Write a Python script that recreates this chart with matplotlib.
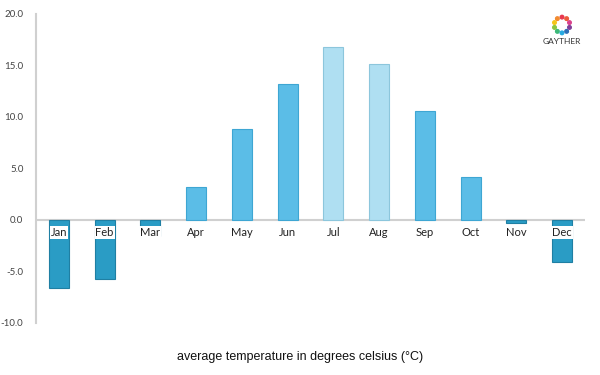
import matplotlib
matplotlib.use("Agg")
import matplotlib.pyplot as plt
import numpy as np

months = ["Jan", "Feb", "Mar", "Apr", "May", "Jun", "Jul", "Aug", "Sep", "Oct", "Nov", "Dec"]
temps = [-6.6, -5.7, -1.6, 3.2, 8.8, 13.2, 16.8, 15.1, 10.6, 4.2, -0.3, -4.1]
yticks = [-10.0, -5.0, 0.0, 5.0, 10.0, 15.0, 20.0]
caption = "average temperature in degrees celsius (°C)"

fig = plt.figure(figsize=(6, 3.75), dpi=100)
ax = fig.add_axes([0.06, 0.1387, 0.915, 0.824])

def color_for(v):
    if v < 0:
        return "#2a9cc5", "#1f7fa3"
    if v >= 15:
        return "#afdff2", "#8cc6dc"
    return "#5bbde7", "#3ea6d3"

x = np.arange(len(months))
for xi, v in zip(x, temps):
    fc, ec = color_for(v)
    ax.bar(xi, v, width=0.44, color=fc, edgecolor=ec, linewidth=0.8, zorder=2)

ax.axhline(0, color="#d0d0d0", linewidth=1.5, zorder=1)
ax.set_xlim(-0.5, 11.5)
ax.set_ylim(-10, 20)
ax.set_yticks(yticks)
ax.set_yticklabels([f"{t:.1f}" for t in yticks], fontsize=7, color="#444444", family="Lato")
ax.tick_params(axis="y", length=0, pad=9)
ax.set_xticks([])
for s in ["top", "right", "bottom"]:
    ax.spines[s].set_visible(False)
ax.spines["left"].set_color("#d0d0d0")
ax.spines["left"].set_linewidth(1.5)

for xi, (m, v) in enumerate(zip(months, temps)):
    if v < -1:
        bbox = dict(boxstyle="square,pad=0.08", fc="white", ec="none")
    else:
        bbox = None
    ax.text(xi, -1.2, m, ha="center", va="center", fontsize=8, color="#222222",
            family="Lato", bbox=bbox, zorder=3)

fig.text(0.5, 0.048, caption, ha="center", va="center", fontsize=9, color="#111111",
         family="Liberation Sans")

# logo
cx, cy, r = 562 / 600, 1 - 25 / 375, 0.021
cols = ["#e8384f", "#f28b30", "#f5c518", "#8cc63f", "#3cb878", "#27aae1", "#2e6fb7", "#7f3f98", "#d9418c", "#ec5a3c"]
for i, c in enumerate(cols):
    a = 2 * np.pi * i / len(cols) + np.pi / 2
    fig.patches.append(matplotlib.patches.Ellipse((cx + r * np.cos(a) * 375 / 600, cy + r * np.sin(a)),
                                                  0.006, 0.0096, transform=fig.transFigure, color=c))
fig.text(cx, 1 - 41 / 375, "GAYTHER", ha="center", va="center", fontsize=6, color="#333333",
         family="Lato")

fig.savefig("out.png", dpi=100)
